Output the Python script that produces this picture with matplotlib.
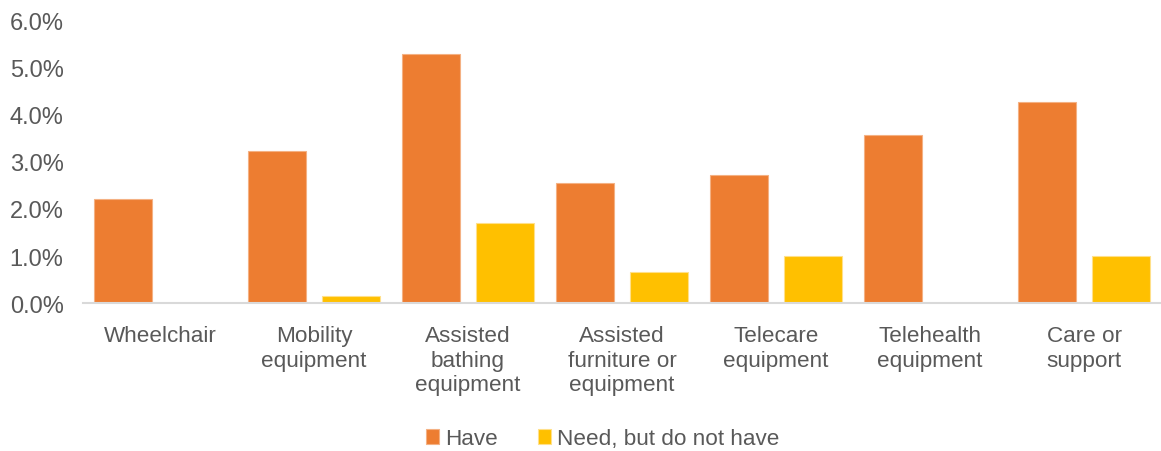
import matplotlib
matplotlib.use("Agg")
import matplotlib.pyplot as plt
import numpy as np
from matplotlib.ticker import FuncFormatter

categories = ["Wheelchair", "Mobility\nequipment", "Assisted\nbathing\nequipment",
              "Assisted\nfurniture or\nequipment", "Telecare\nequipment",
              "Telehealth\nequipment", "Care or\nsupport"]
have = [2.21, 3.23, 5.29, 2.55, 2.72, 3.57, 4.26]
need = [0.0, 0.15, 1.70, 0.66, 1.00, 0.0, 1.00]
series_names = ["Have", "Need, but do not have"]
yticks = [0, 1, 2, 3, 4, 5, 6]

plt.rcParams['font.family'] = ['Liberation Sans', 'DejaVu Sans']
text_color = "#595959"

fig = plt.figure(figsize=(11.61, 4.52), dpi=100)
ax = fig.add_axes([0.0715, 0.327, 0.9285, 0.626])

x = np.arange(len(categories))
w = 0.377
off = 0.24
ax.bar(x - off, have, w, color="#ED7D31", edgecolor="#F4B183", linewidth=0.8, label=series_names[0])
ax.bar(x + off, need, w, color="#FFC000", edgecolor="#FFE08A", linewidth=0.8, label=series_names[1])

ax.set_xlim(-0.5, len(categories) - 0.5)
ax.set_ylim(0, 6)
ax.set_yticks(yticks)
ax.yaxis.set_major_formatter(FuncFormatter(lambda v, p: f"{v:.1f}%"))
ax.set_xticks(x)
ax.set_xticklabels(categories, linespacing=1.2, va="top")
ax.tick_params(axis="x", length=0, labelsize=16.2, colors=text_color, pad=16)
ax.tick_params(axis="y", length=0, labelsize=17, colors=text_color, pad=14)

for s in ["top", "right", "left"]:
    ax.spines[s].set_visible(False)
ax.spines["bottom"].set_color("#D9D9D9")
ax.spines["bottom"].set_linewidth(1.5)

leg = fig.legend(loc="center", bbox_to_anchor=(0.519, 0.027), ncol=2, frameon=False,
                 fontsize=16.2, handlelength=0.6, handleheight=0.6, handletextpad=0.25,
                 columnspacing=1.8)
for t in leg.get_texts():
    t.set_color(text_color)

fig.savefig("out.png", dpi=100)
